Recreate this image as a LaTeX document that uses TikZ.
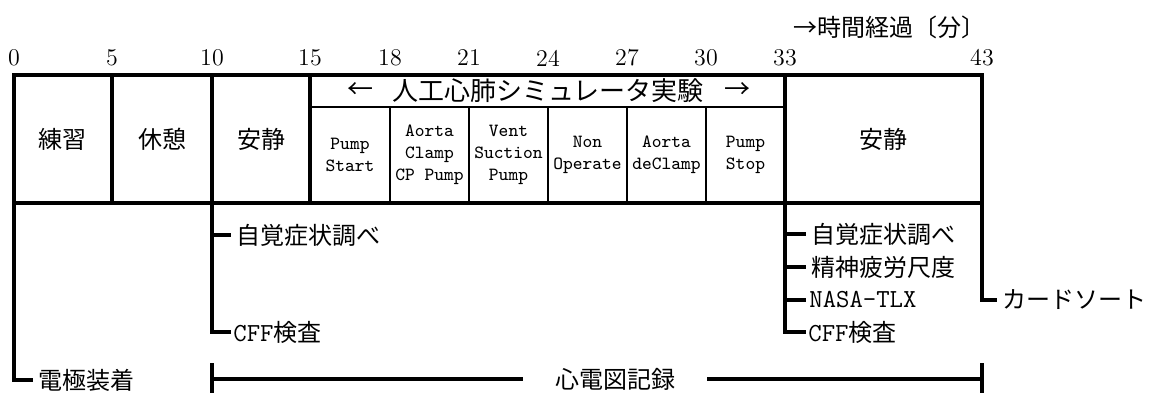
\documentclass[tikz,border=0pt]{standalone}
\usepackage{fontspec}
\newfontfamily\jp{Noto Sans CJK JP}
\begin{document}
\begin{tikzpicture}[x=0.5pt,y=-0.5pt,
  thickline/.style={line width=2pt},
  thinline/.style={line width=1.3pt},
  lead/.style={line width=1.7pt},
  ecgline/.style={line width=2.4pt},
  jtext/.style={inner sep=0pt,font=\jp\fontsize{12}{14}\selectfont},
  htext/.style={inner sep=0pt,font=\jp\fontsize{13}{15}\selectfont},
  ptext/.style={inner sep=0pt,align=center,font=\ttfamily\fontsize{9.3}{11}\selectfont},
  ticklbl/.style={inner sep=0pt,font=\fontsize{12}{14}\selectfont},
  lbl/.style={anchor=west,inner xsep=2.5pt,inner ysep=0pt,font=\fontsize{12}{14}\selectfont},
  mono/.style={font=\ttfamily\fontsize{13}{15}\selectfont}
]
\useasboundingbox (0,0) rectangle (1152,392);

% box corners
\coordinate (tl) at (14,75);
\coordinate (br) at (982,203);

% thin sub-grid
\draw[thinline] (310,107) -- (785,107);
\foreach \x in {390,469,548,627,706} \draw[thinline] (\x,107) -- (\x,203);
% thick frame
\draw[thickline] (tl) rectangle (br);
\foreach \x in {112,212,310,785} \draw[thickline] (\x,75) -- (\x,203);

% axis labels
\foreach \x/\t in {14/0,112/5,212/10,310/15,390/18,469/21,548/24,627/27,706/30,785/33,982/43}
  \node[ticklbl] at (\x,58) {\t};
\node[jtext,anchor=west] (timelbl) at (793,27) {→時間経過〔分〕};

% main cells
\node[jtext] (renshu) at (63,139) {練習};
\node[jtext] (kyukei) at (162,139) {休憩};
\node[jtext] (ansei1) at (261,139) {安静};
\node[jtext] (ansei2) at (883.5,139) {安静};

% header
\node[htext] (larr) at (360,91) {←};
\node[htext] (hdr) at (548,91) {人工心肺シミュレータ実験};
\node[htext] (rarr) at (737,91) {→};

% sub cells
\node[ptext] (s1) at (350,155) {Pump\\Start};
\node[ptext] (s2) at (429.5,155) {Aorta\\Clamp\\CP Pump};
\node[ptext] (s3) at (508.5,155) {Vent\\Suction\\Pump};
\node[ptext] (s4) at (587.5,155) {Non\\Operate};
\node[ptext] (s5) at (666.5,155) {Aorta\\deClamp};
\node[ptext] (s6) at (745.5,155) {Pump\\Stop};

% below: anchors on the frame
\coordinate (p0) at (14,203);
\coordinate (p10) at (212,203);
\coordinate (p33) at (785,203);
\coordinate (p43) at (982,203);

\node[lbl] (denkyoku) at (33,380) {\jp 電極装着};
\draw[lead] (p0) |- (denkyoku.west);

\node[lbl] (jikaku1) at (231,235) {\jp 自覚症状調べ};
\node[lbl,inner xsep=1pt] (cff1) at (231,332) {{\ttfamily\fontsize{13}{15}\selectfont CFF}{\jp 検査}};
\draw[lead] (p10) |- (jikaku1.west);
\draw[lead] (p10) |- (cff1.west);

\node[lbl] (jikaku2) at (806,234) {\jp 自覚症状調べ};
\node[lbl] (seishin) at (806,267) {\jp 精神疲労尺度};
\node[lbl,mono,inner xsep=1.5pt] (nasa) at (806,300) {NASA-TLX};
\node[lbl,inner xsep=1pt] (cff2) at (806,332) {{\ttfamily\fontsize{13}{15}\selectfont CFF}{\jp 検査}};
\draw[lead] (p33) |- (jikaku2.west);
\draw[lead] (p33) |- (seishin.west);
\draw[lead] (p33) |- (nasa.west);
\draw[lead] (p33) |- (cff2.west);

\node[lbl] (card) at (997,300) {\jp カードソート};
\draw[lead] (p43) |- (card.west);

% ECG
\node[jtext,inner xsep=16pt] (ecg) at (615,379) {心電図記録};
\coordinate (e0) at (212,379);
\coordinate (e1) at (982,379);
\draw[ecgline] (e0) -- (ecg.west);
\draw[ecgline] (ecg.east) -- (e1);
\draw[thickline] (212,363) -- (212,394);
\draw[thickline] (982,363) -- (982,394);
\end{tikzpicture}
\end{document}
